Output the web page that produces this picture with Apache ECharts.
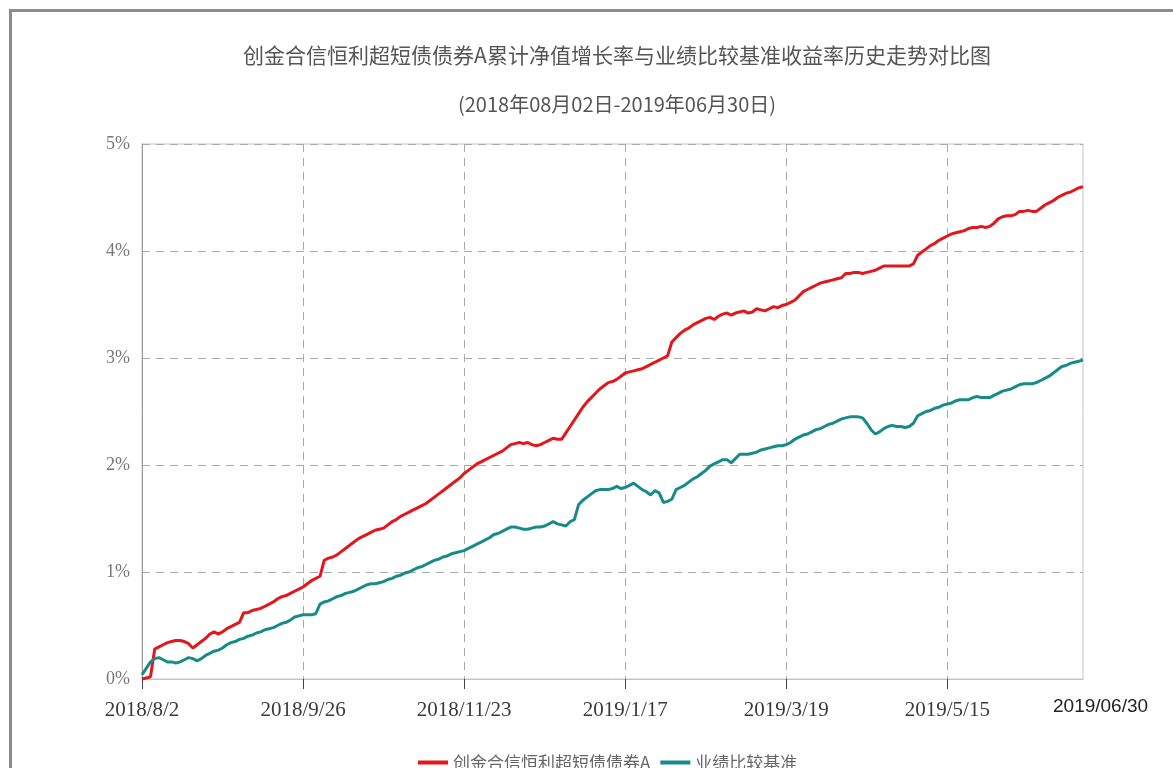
<!DOCTYPE html>
<html>
<head>
<meta charset="utf-8">
<title>创金合信恒利超短债债券A</title>
<script src="https://cdn.jsdelivr.net/npm/echarts@6/dist/echarts.min.js"></script>
<style>
    html, body { margin: 0; padding: 0; background: #fff; overflow: hidden; }
    #frame { position: absolute; left: 9px; top: 9px; width: 1400px; height: 1000px;
             border-left: 3px solid #8c8c8c; border-top: 3px solid #8c8c8c; }
    #main { position: absolute; left: 0; top: 0; width: 1173px; height: 768px; }
</style>
</head>
<body>
<div id="frame"></div>
<div id="main"></div>
<script>
// 交易日：工作日去掉休市日，再加上季末/期末日
var startDate = '2018-08-02';
var endDate = '2019-06-30';
var holidays = ['2018-09-24', '2018-10-01', '2018-10-02', '2018-10-03', '2018-10-04', '2018-10-05',
    '2019-01-01', '2019-02-04', '2019-02-05', '2019-02-06', '2019-02-07', '2019-02-08',
    '2019-04-05', '2019-05-01', '2019-05-02', '2019-05-03', '2019-06-07'];
var periodEnds = ['2018-09-30', '2018-12-31', '2019-03-31', '2019-06-30'];
var endLabel = '2019/06/30';

var seriesNames = ['创金合信恒利超短债债券A', '业绩比较基准'];

// 累计净值增长率 (%)
var fundValues = [
    0.00, 0.01, 0.02, 0.28, 0.30, 0.32, 0.34, 0.35, 0.36, 0.36,
    0.35, 0.33, 0.29, 0.32, 0.35, 0.38, 0.42, 0.44, 0.42, 0.44,
    0.47, 0.49, 0.51, 0.53, 0.62, 0.62, 0.64, 0.65, 0.66, 0.68,
    0.70, 0.72, 0.75, 0.77, 0.78, 0.80, 0.82, 0.84, 0.86, 0.89,
    0.92, 0.94, 0.96, 1.11, 1.13, 1.14, 1.16, 1.19, 1.22, 1.25,
    1.28, 1.31, 1.33, 1.35, 1.37, 1.39, 1.40, 1.41, 1.44, 1.47,
    1.49, 1.52, 1.54, 1.56, 1.58, 1.60, 1.62, 1.64, 1.67, 1.70,
    1.73, 1.76, 1.79, 1.82, 1.85, 1.88, 1.92, 1.95, 1.98, 2.01,
    2.03, 2.05, 2.07, 2.09, 2.11, 2.13, 2.16, 2.19, 2.20, 2.21,
    2.20, 2.21, 2.19, 2.18, 2.19, 2.21, 2.23, 2.25, 2.24, 2.24,
    2.30, 2.36, 2.42, 2.48, 2.54, 2.59, 2.63, 2.67, 2.71, 2.74,
    2.77, 2.78, 2.80, 2.83, 2.86, 2.87, 2.88, 2.89, 2.90, 2.92,
    2.94, 2.96, 2.98, 3.00, 3.02, 3.15, 3.19, 3.23, 3.26, 3.28,
    3.31, 3.33, 3.35, 3.37, 3.38, 3.36, 3.39, 3.41, 3.42, 3.40,
    3.42, 3.43, 3.44, 3.42, 3.43, 3.46, 3.45, 3.44, 3.46, 3.48,
    3.47, 3.49, 3.50, 3.52, 3.54, 3.58, 3.62, 3.64, 3.66, 3.68,
    3.70, 3.71, 3.72, 3.73, 3.74, 3.75, 3.79, 3.79, 3.80, 3.80,
    3.79, 3.80, 3.81, 3.82, 3.84, 3.86, 3.86, 3.86, 3.86, 3.86,
    3.86, 3.86, 3.88, 3.96, 3.99, 4.02, 4.05, 4.07, 4.10, 4.12,
    4.14, 4.16, 4.17, 4.18, 4.19, 4.21, 4.22, 4.22, 4.23, 4.22,
    4.23, 4.26, 4.30, 4.32, 4.33, 4.33, 4.34, 4.37, 4.37, 4.38,
    4.37, 4.37, 4.40, 4.43, 4.45, 4.47, 4.50, 4.52, 4.54, 4.55,
    4.57, 4.59, 4.60
];

// 业绩比较基准收益率 (%)
var benchValues = [
    0.04, 0.10, 0.16, 0.19, 0.20, 0.18, 0.16, 0.16, 0.15, 0.16,
    0.18, 0.20, 0.19, 0.17, 0.19, 0.22, 0.24, 0.26, 0.27, 0.29,
    0.32, 0.34, 0.35, 0.37, 0.38, 0.40, 0.41, 0.43, 0.44, 0.46,
    0.47, 0.48, 0.50, 0.52, 0.53, 0.55, 0.58, 0.59, 0.60, 0.60,
    0.60, 0.61, 0.70, 0.72, 0.73, 0.75, 0.77, 0.78, 0.80, 0.81,
    0.82, 0.84, 0.86, 0.88, 0.89, 0.89, 0.90, 0.91, 0.93, 0.94,
    0.96, 0.97, 0.99, 1.00, 1.02, 1.04, 1.05, 1.07, 1.09, 1.11,
    1.12, 1.14, 1.15, 1.17, 1.18, 1.19, 1.20, 1.22, 1.24, 1.26,
    1.28, 1.30, 1.32, 1.35, 1.36, 1.38, 1.40, 1.42, 1.42, 1.41,
    1.40, 1.40, 1.41, 1.42, 1.42, 1.43, 1.45, 1.47, 1.45, 1.44,
    1.43, 1.47, 1.49, 1.63, 1.67, 1.70, 1.73, 1.76, 1.77, 1.77,
    1.77, 1.78, 1.80, 1.78, 1.79, 1.81, 1.83, 1.80, 1.77, 1.75,
    1.72, 1.76, 1.74, 1.65, 1.66, 1.68, 1.77, 1.79, 1.81, 1.84,
    1.87, 1.89, 1.92, 1.95, 1.99, 2.01, 2.03, 2.05, 2.05, 2.02,
    2.06, 2.10, 2.10, 2.10, 2.11, 2.12, 2.14, 2.15, 2.16, 2.17,
    2.18, 2.18, 2.19, 2.21, 2.24, 2.26, 2.28, 2.29, 2.31, 2.33,
    2.34, 2.36, 2.38, 2.39, 2.41, 2.43, 2.44, 2.45, 2.45, 2.45,
    2.44, 2.39, 2.33, 2.29, 2.31, 2.34, 2.36, 2.37, 2.36, 2.36,
    2.35, 2.36, 2.39, 2.46, 2.48, 2.50, 2.51, 2.53, 2.54, 2.56,
    2.57, 2.58, 2.60, 2.61, 2.61, 2.61, 2.63, 2.64, 2.63, 2.63,
    2.63, 2.65, 2.67, 2.69, 2.70, 2.71, 2.73, 2.75, 2.76, 2.76,
    2.76, 2.77, 2.79, 2.81, 2.83, 2.86, 2.89, 2.92, 2.93, 2.95,
    2.96, 2.97, 2.98
];

function pad(n) { return n < 10 ? '0' + n : '' + n; }

var dates = [];
var d = new Date(startDate + 'T00:00:00Z');
var last = new Date(endDate + 'T00:00:00Z');
while (d <= last) {
    var iso = d.getUTCFullYear() + '-' + pad(d.getUTCMonth() + 1) + '-' + pad(d.getUTCDate());
    var wd = d.getUTCDay();
    var open = wd !== 0 && wd !== 6 && holidays.indexOf(iso) < 0;
    if (open || periodEnds.indexOf(iso) >= 0) {
        dates.push(d.getUTCFullYear() + '/' + (d.getUTCMonth() + 1) + '/' + d.getUTCDate());
    }
    d.setUTCDate(d.getUTCDate() + 1);
}

var serif = "'Liberation Serif', 'Noto Sans CJK SC', serif";
var cjk = "'Noto Sans CJK SC', sans-serif";
var labelStep = 37;

var option = {
    animation: false,
    title: [
        {
            text: '创金合信恒利超短债债券A累计净值增长率与业绩比较基准收益率历史走势对比图',
            left: 612,
            top: 40,
            textAlign: 'center',
            textStyle: { fontSize: 21, fontWeight: 'normal', color: '#555', fontFamily: cjk }
        },
        {
            text: '(2018年08月02日-2019年06月30日)',
            left: 612,
            top: 89,
            textAlign: 'center',
            textStyle: { fontSize: 20, fontWeight: 'normal', color: '#555', fontFamily: cjk }
        }
    ],
    legend: {
        top: 749,
        left: 413,
        itemWidth: 30,
        itemHeight: 4,
        itemGap: 10,
        icon: 'rect',
        textStyle: { fontSize: 17, color: '#666', fontFamily: cjk },
        data: seriesNames
    },
    grid: {
        left: 142,
        right: 90,
        top: 144,
        bottom: 89,
        show: true,
        borderColor: '#c4c4c4',
        borderWidth: 1
    },
    xAxis: {
        type: 'category',
        data: dates,
        boundaryGap: false,
        axisLine: { show: true, lineStyle: { color: '#c4c4c4' } },
        axisTick: { show: true, interval: labelStep, length: 10, lineStyle: { color: '#444' } },
        axisLabel: {
            interval: labelStep,
            margin: 21,
            fontSize: 21,
            color: '#3a3a3a',
            fontFamily: serif
        },
        splitLine: {
            show: true,
            interval: labelStep,
            lineStyle: { color: '#aaa', type: [8, 6], width: 1 }
        }
    },
    yAxis: {
        type: 'value',
        min: 0,
        max: 5,
        interval: 1,
        axisLine: { show: true, lineStyle: { color: '#999' } },
        axisTick: { show: false },
        axisLabel: {
            formatter: '{value}%',
            margin: 12,
            fontSize: 18,
            color: '#777',
            fontFamily: serif
        },
        splitLine: {
            show: true,
            lineStyle: { color: '#aaa', type: [8, 6], width: 1 }
        }
    },
    graphic: [
        {
            type: 'text',
            left: 1053,
            top: 697,
            style: {
                text: endLabel,
                fontSize: 19,
                fill: '#222',
                fontFamily: "'Liberation Sans', sans-serif"
            }
        }
    ],
    series: [
        {
            name: seriesNames[0],
            type: 'line',
            data: fundValues,
            showSymbol: false,
            color: '#e3161c',
            lineStyle: { width: 3, color: '#e3161c' }
        },
        {
            name: seriesNames[1],
            type: 'line',
            data: benchValues,
            showSymbol: false,
            color: '#178b8b',
            lineStyle: { width: 3, color: '#178b8b' }
        }
    ]
};

var chart = echarts.init(document.getElementById('main'));
chart.setOption(option);
</script>
</body>
</html>
